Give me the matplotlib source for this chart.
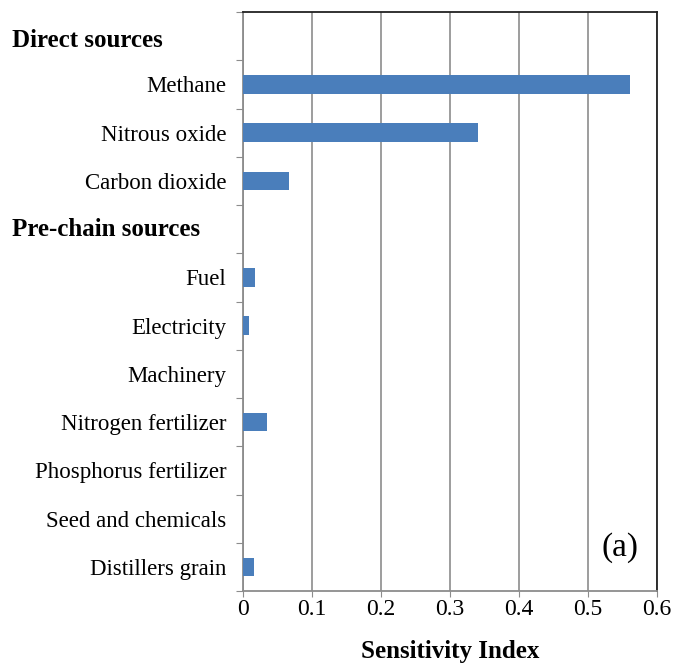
import numpy as np
import matplotlib.pyplot as plt
import matplotlib.transforms as mtransforms

plt.rcParams['font.family'] = ['Liberation Serif', 'DejaVu Serif']

categories = ["Direct sources", "Methane", "Nitrous oxide", "Carbon dioxide",
              "Pre-chain sources", "Fuel", "Electricity", "Machinery",
              "Nitrogen fertilizer", "Phosphorus fertilizer", "Seed and chemicals",
              "Distillers grain"]
headers = ["Direct sources", "Pre-chain sources"]
values = [0, 0.561, 0.340, 0.066, 0, 0.017, 0.009, 0, 0.035, 0, 0, 0.016]
xticks = [0, 0.1, 0.2, 0.3, 0.4, 0.5, 0.6]

fig = plt.figure(figsize=(6.77, 6.72), dpi=100)
ax = fig.add_axes([243/677, 81/672, 414/677, 579/672])

y = np.arange(len(categories))
ax.barh(y, values, height=0.38, color='#4A7EBB', zorder=3)

ax.set_xlim(0, 0.6)
ax.set_ylim(len(categories) - 0.5, -0.5)
ax.set_xticks(xticks)
ax.set_xticklabels([f"{v:g}" for v in xticks], fontsize=17)
ax.grid(axis='x', color='#8c8c8c', linewidth=1.2, zorder=0)

# boundary ticks on the y axis, labels at row centres
ax.set_yticks(np.arange(len(categories) + 1) - 0.5)
ax.set_yticklabels([])
ax.set_yticks(y, minor=True)
ax.set_yticklabels([c if c not in headers else "" for c in categories], minor=True, fontsize=16.5)
ax.tick_params(axis='y', which='major', length=5, color='#8c8c8c')
ax.tick_params(axis='y', which='minor', length=0, pad=12)
ax.tick_params(axis='x', length=4, color='#8c8c8c', pad=2)

# section headers, left aligned at the figure edge
trans = mtransforms.blended_transform_factory(fig.transFigure, ax.transData)
for i, c in enumerate(categories):
    if c in headers:
        ax.text(12/677, i + (0.1 if i == 0 else 0), c, transform=trans, fontsize=18,
                fontweight='bold', ha='left', va='center')

ax.spines['left'].set_color('#8c8c8c')
ax.spines['bottom'].set_color('#8c8c8c')
ax.spines['top'].set_color('#222222')
ax.spines['right'].set_color('#222222')
for s in ax.spines.values():
    s.set_linewidth(1.3)

ax.set_xlabel("Sensitivity Index", fontsize=18, fontweight='bold', labelpad=14)
ax.text(0.546, 10.6, "(a)", fontsize=24, ha='center', va='center')

fig.savefig("out.png", dpi=100)
